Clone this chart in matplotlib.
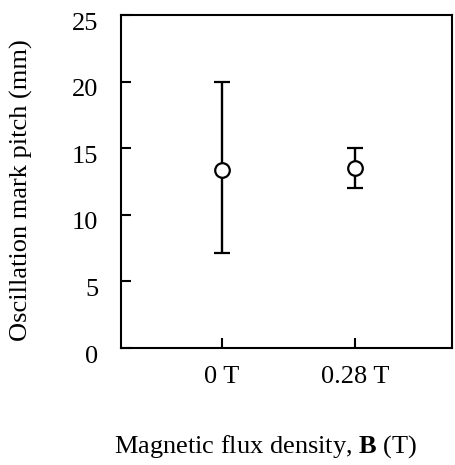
import matplotlib
matplotlib.use("Agg")
import matplotlib.pyplot as plt
from matplotlib.transforms import ScaledTranslation

categories = ["0 T", "0.28 T"]
means = [13.4, 13.5]
upper = [20.0, 15.0]
lower = [7.1, 12.0]

plt.rcParams['font.family'] = ['Liberation Serif', 'DejaVu Serif']
plt.rcParams['mathtext.fontset'] = 'custom'
plt.rcParams['mathtext.rm'] = 'Liberation Serif'
plt.rcParams['mathtext.bf'] = 'Liberation Serif:bold'

fig = plt.figure(figsize=(4.55, 4.65), dpi=100)
ax = fig.add_axes([0.266, 0.2516, 0.727, 0.716])

x = [1, 2]
yerr = [[m - l for m, l in zip(means, lower)], [u - m for m, u in zip(means, upper)]]
ax.errorbar(x, means, yerr=yerr, fmt='o', color='black', mfc='white', mec='black',
            markersize=10.5, mew=1.6, elinewidth=1.7, capsize=6, capthick=1.7)

ax.set_xlim(0.24, 2.73)
ax.set_ylim(0, 25)
ax.set_yticks([0, 5, 10, 15, 20, 25])
ax.set_xticks(x)
ax.set_xticklabels(categories)
ax.tick_params(direction='in', length=7, width=1.5, labelsize=19)
ax.tick_params(axis='y', pad=16.5)
ax.tick_params(axis='x', pad=13)
for s in ax.spines.values():
    s.set_linewidth(1.5)

for lab in ax.get_yticklabels():
    lab.set_transform(lab.get_transform() + ScaledTranslation(0, -0.06, fig.dpi_scale_trans))

ax.set_ylabel("Oscillation mark pitch (mm)", fontsize=19)
ax.yaxis.set_label_coords(-0.266, 0.474)
ax.set_xlabel(r"Magnetic flux density, $\mathbf{B}$ (T)", fontsize=19)
ax.xaxis.set_label_coords(0.438, -0.255)

fig.savefig("out.png", dpi=100)
